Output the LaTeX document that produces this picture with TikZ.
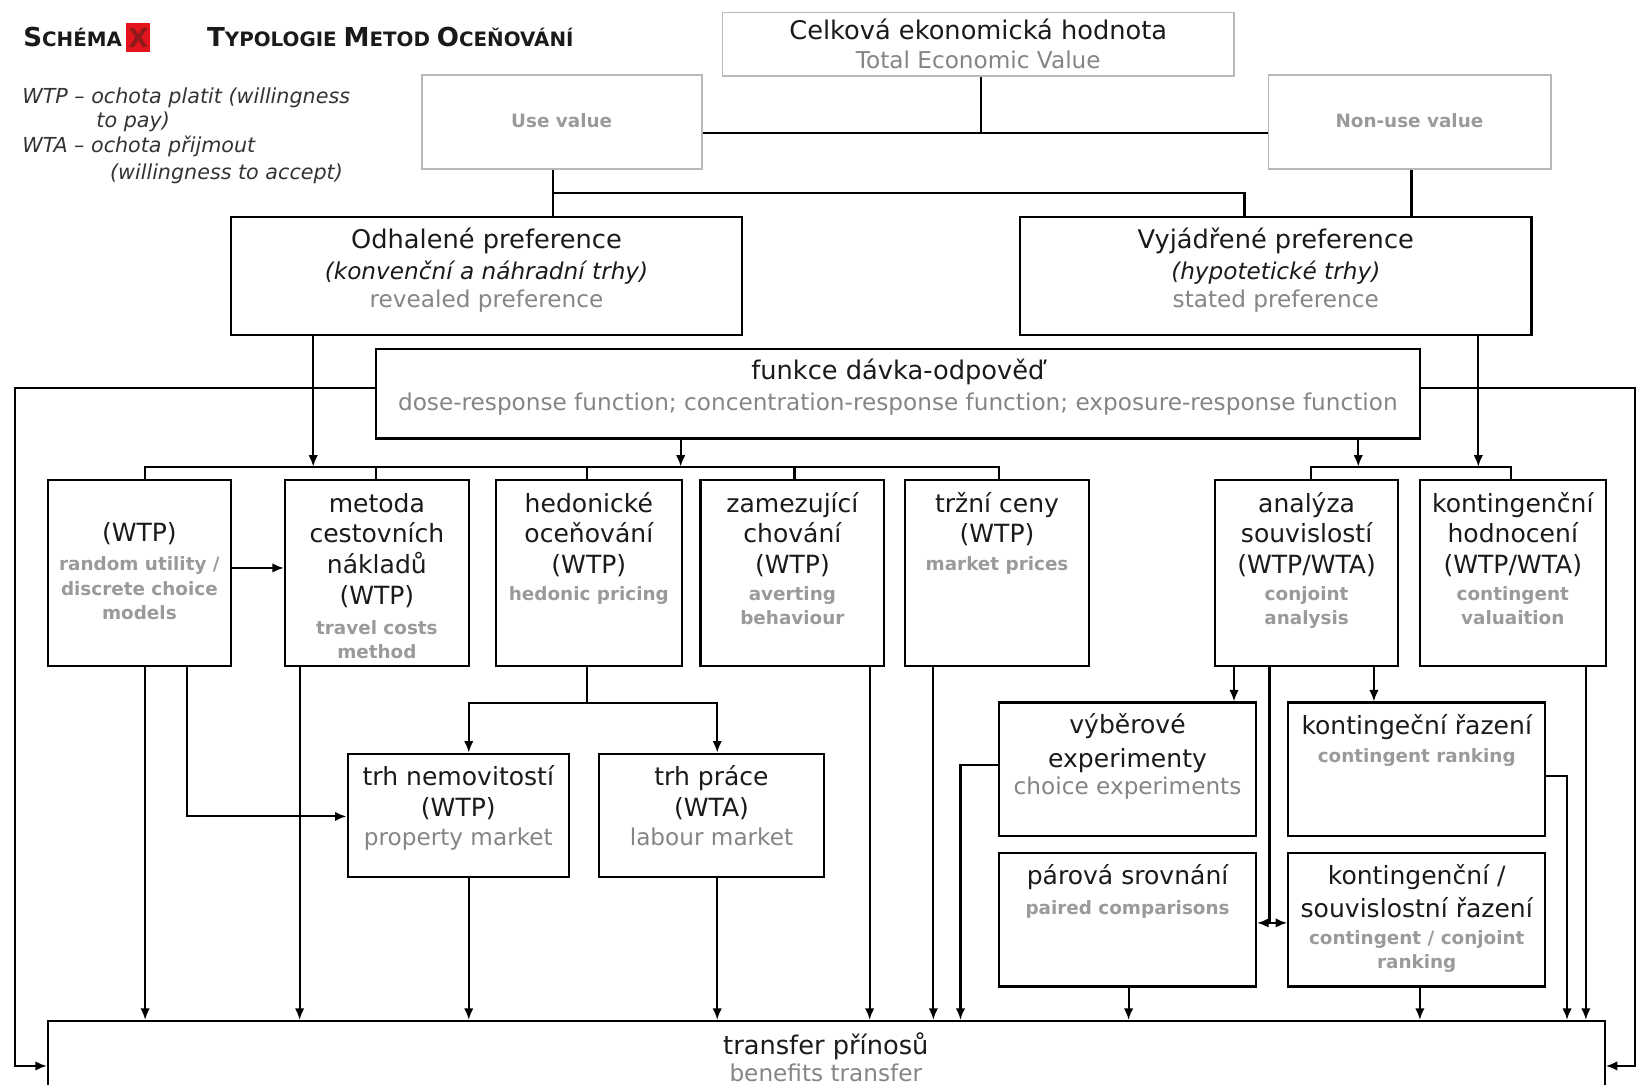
\documentclass[tikz,border=0pt]{standalone}
\usepackage{fontspec}
\setmainfont{DejaVu Sans}
\usetikzlibrary{arrows.meta,fit}
\definecolor{txtblack}{HTML}{1A1A1A}
\definecolor{gtxt}{HTML}{858585}
\definecolor{gsmall}{HTML}{9A9A9A}
\definecolor{gline}{HTML}{B8B8B8}
\definecolor{txtleg}{HTML}{333333}
\definecolor{redbx}{HTML}{E3141C}
\definecolor{xcol}{HTML}{8E1A1A}
\newcommand\BigS[1]{{\fontsize{12.5}{14}\selectfont #1}}
\newcommand\SmS[1]{{\fontsize{9.5}{14}\selectfont #1}}
\begin{document}
\begin{tikzpicture}[x=0.5pt,y=-0.5pt,
  every node/.style={inner sep=0pt},
  bx/.style={draw=black, line width=1.1pt},
  gbx/.style={draw=gline, line width=0.9pt},
  tl/.style={anchor=mid, yshift=-1.5pt},
  hb/.style={tl, font=\fontsize{12.3}{14}\selectfont, text=txtblack},
  hg/.style={tl, font=\fontsize{11.1}{13}\selectfont, text=gtxt},
  hi/.style={tl, font=\fontsize{11.1}{13}\selectfont\itshape, text=txtblack},
  rb/.style={tl, font=\fontsize{12}{14}\selectfont, text=txtblack},
  rs/.style={tl, font=\bfseries\fontsize{8.8}{11}\selectfont, text=gsmall},
  lg/.style={anchor=mid west, yshift=-1.5pt, font=\itshape\fontsize{9.9}{12}\selectfont, text=txtleg},
  conn/.style={draw=black, line width=1pt},
  arr/.style={conn, -{Latex[length=5.5pt,width=4.5pt]}},
  darr/.style={conn, {Latex[length=5.5pt,width=4.5pt]}-{Latex[length=5.5pt,width=4.5pt]}},
]
\useasboundingbox (0,0) rectangle (1568,1039);

% ---------- title and legend
\node[anchor=mid west, yshift=-1.5pt, font=\bfseries, text=txtblack] (ttl) at (22,36) {\BigS{S}\SmS{CHÉMA}};
\node[fill=redbx, fit={(121,22) (144,50)}] (rbox) {};
\node[font=\bfseries\fontsize{12.5}{14}\selectfont, text=xcol] (rboxx) at (rbox.center) {X};
\node[anchor=mid west, yshift=-1.5pt, font=\bfseries, text=txtblack] (ttl2) at (198,36)
  {\BigS{T}\SmS{YPOLOGIE }\BigS{M}\SmS{ETOD }\BigS{O}\SmS{CEŇOVÁNÍ}};
\node[lg] (lg1) at (21,91) {WTP – ochota platit (willingness};
\node[lg] (lg2) at (92,114) {to pay)};
\node[lg] (lg3) at (21,138) {WTA – ochota přijmout};
\node[lg] (lg4) at (105,163) {(willingness to accept)};

% ---------- boxes
\node[gbx, fit={(692,12) (1182,73)}] (tev) {};
\node[gbx, fit={(404,72) (672,162)}] (use) {};
\node[gbx, fit={(1215,72) (1486,162)}] (nonuse) {};
\node[bx, fit={(221,208) (711,321)}] (odh) {};
\node[bx, fit={(977,208) (1467,321)}] (vyj) {};
\node[bx, fit={(360,334) (1360,420)}] (fun) {};
\node[bx, fit={(46,460) (221,638)}] (b1) {};
\node[bx, fit={(273,460) (449,638)}] (b2) {};
\node[bx, fit={(475,460) (653,638)}] (b3) {};
\node[bx, fit={(671,460) (847,638)}] (b4) {};
\node[bx, fit={(867,460) (1043,638)}] (b5) {};
\node[bx, fit={(1164,460) (1339,638)}] (b6) {};
\node[bx, fit={(1360,460) (1538,638)}] (b7) {};
\node[bx, fit={(333,722) (545,840)}] (nem) {};
\node[bx, fit={(574,722) (789,840)}] (pra) {};
\node[bx, fit={(957,673) (1203,801)}] (vyb) {};
\node[bx, fit={(1234,673) (1480,801)}] (kr) {};
\node[bx, fit={(957,817) (1203,945)}] (par) {};
\node[bx, fit={(1234,817) (1480,945)}] (ksr) {};
\node[bx, fit={(46,978) (1537,1064)}] (tr) {};

% ---------- texts
\node[hb] (tev1) at (937,29) {Celková ekonomická hodnota};
\node[hg] (tev2) at (937,57) {Total Economic Value};
\node[rs] (use1) at (538,114) {Use value};
\node[rs] (nonuse1) at (1350,114) {Non-use value};

\node[hb] (odh1) at (466,230) {Odhalené preference};
\node[hi] (odh2) at (466,259) {(konvenční a náhradní trhy)};
\node[hg] (odh3) at (466,286) {revealed preference};
\node[hb] (vyj1) at (1222,230) {Vyjádřené preference};
\node[hi] (vyj2) at (1222,259) {(hypotetické trhy)};
\node[hg] (vyj3) at (1222,286) {stated preference};

\node[hb] (fun1) at (860,355) {funkce dávka-odpověď};
\node[hg] (fun2) at (860,385) {dose-response function; concentration-response function; exposure-response function};

\node[rb] (b1a) at (133.5,510) {(WTP)};
\node[rs] (b1b) at (133.5,538) {random utility /};
\node[rs] (b1c) at (133.5,562) {discrete choice};
\node[rs] (b1d) at (133.5,585) {models};

\node[rb] (b2a) at (361,482) {metoda};
\node[rb] (b2b) at (361,511) {cestovních};
\node[rb] (b2c) at (361,541) {nákladů};
\node[rb] (b2d) at (361,571) {(WTP)};
\node[rs] (b2e) at (361,599) {travel costs};
\node[rs] (b2f) at (361,622) {method};

\node[rb] (b3a) at (564,482) {hedonické};
\node[rb] (b3b) at (564,511) {oceňování};
\node[rb] (b3c) at (564,541) {(WTP)};
\node[rs] (b3d) at (564,567) {hedonic pricing};

\node[rb] (b4a) at (759,482) {zamezující};
\node[rb] (b4b) at (759,511) {chování};
\node[rb] (b4c) at (759,541) {(WTP)};
\node[rs] (b4d) at (759,567) {averting};
\node[rs] (b4e) at (759,590) {behaviour};

\node[rb] (b5a) at (955,482) {tržní ceny};
\node[rb] (b5b) at (955,511) {(WTP)};
\node[rs] (b5c) at (955,538) {market prices};

\node[rb] (b6a) at (1251.5,482) {analýza};
\node[rb] (b6b) at (1251.5,511) {souvislostí};
\node[rb] (b6c) at (1251.5,541) {(WTP/WTA)};
\node[rs] (b6d) at (1251.5,567) {conjoint};
\node[rs] (b6e) at (1251.5,590) {analysis};

\node[rb] (b7a) at (1449,482) {kontingenční};
\node[rb] (b7b) at (1449,511) {hodnocení};
\node[rb] (b7c) at (1449,541) {(WTP/WTA)};
\node[rs] (b7d) at (1449,567) {contingent};
\node[rs] (b7e) at (1449,590) {valuaition};

\node[rb] (nem1) at (439,744) {trh nemovitostí};
\node[rb] (nem2) at (439,774) {(WTP)};
\node[hg] (nem3) at (439,801) {property market};
\node[rb] (pra1) at (681.5,744) {trh práce};
\node[rb] (pra2) at (681.5,774) {(WTA)};
\node[hg] (pra3) at (681.5,801) {labour market};

\node[rb] (vyb1) at (1080,694) {výběrové};
\node[rb] (vyb2) at (1080,727) {experimenty};
\node[hg] (vyb3) at (1080,753) {choice experiments};
\node[rb] (kr1) at (1357,695) {kontingeční řazení};
\node[rs] (kr2) at (1357,722) {contingent ranking};
\node[rb] (par1) at (1080,839) {párová srovnání};
\node[rs] (par2) at (1080,867) {paired comparisons};
\node[rb] (ksr1) at (1357,839) {kontingenční /};
\node[rb] (ksr2) at (1357,870) {souvislostní řazení};
\node[rs] (ksr3) at (1357,896) {contingent / conjoint};
\node[rs] (ksr4) at (1357,919) {ranking};

\node[hb] (tr1) at (791,1002) {transfer přínosů};
\node[hg] (tr2) at (791,1027) {benefits transfer};

% ---------- connectors: top tree
\coordinate (jT) at (940,127);
\draw[conn] (tev.south -| jT) -- (jT);
\draw[conn] (use.east |- jT) -- (nonuse.west |- jT);
\coordinate (jU) at (530,185);
\coordinate (jV) at (1192,185);
\coordinate (jN) at (1352,185);
\draw[conn] (use.south -| jU) -- (odh.north -| jU);
\draw[conn] (jU) -- (jV) -- (vyj.north -| jV);
\draw[conn] (nonuse.south -| jN) -- (vyj.north -| jN);

% ---------- buses to row boxes
\coordinate (busL1) at (139,447);
\coordinate (busL2) at (957,447);
\coordinate (d2) at (360,447);
\coordinate (d3) at (562,447);
\coordinate (d4) at (761,447);
\draw[conn] (b1.north -| busL1) -- (busL1) -- (busL2) -- (b5.north -| busL2);
\draw[conn] (d2) -- (b2.north -| d2);
\draw[conn] (d3) -- (b3.north -| d3);
\draw[conn] (d4) -- (b4.north -| d4);
\coordinate (aO) at (300,447);
\coordinate (aF) at (652,447);
\draw[arr] (odh.south -| aO) -- (aO);
\draw[arr] (fun.south -| aF) -- (aF);
\coordinate (busR1) at (1256,447);
\coordinate (busR2) at (1447,447);
\draw[conn] (b6.north -| busR1) -- (busR1) -- (busR2) -- (b7.north -| busR2);
\coordinate (aF2) at (1301,447);
\coordinate (aV) at (1416,447);
\draw[arr] (fun.south -| aF2) -- (aF2);
\draw[arr] (vyj.south -| aV) -- (aV);

% ---------- dose-response side lines to transfer
\coordinate (fL) at (14,372);
\coordinate (fR) at (1566,372);
\draw[arr] (fun.west |- fL) -- (fL) |- (tr.west);
\draw[arr] (fun.east |- fR) -- (fR) |- (tr.east);

% ---------- row 2 connectors
\coordinate (yA) at (0,544);
\draw[arr] (b1.east |- yA) -- (b2.west |- yA);
\coordinate (x139) at (139,0);
\coordinate (x179) at (179,0);
\coordinate (yN) at (0,782);
\draw[arr] (b1.south -| x139) -- (tr.north -| x139);
\draw[arr] (b1.south -| x179) |- (nem.west |- yN);
\coordinate (x287) at (287,0);
\draw[arr] (b2.south -| x287) -- (tr.north -| x287);
\coordinate (jH) at (562,673);
\coordinate (jH1) at (449,673);
\coordinate (jH2) at (687,673);
\draw[conn] (b3.south -| jH) -- (jH);
\draw[arr] (jH) -| (nem.north -| jH1);
\draw[arr] (jH) -| (pra.north -| jH2);
\draw[arr] (nem.south -| jH1) -- (tr.north -| jH1);
\draw[arr] (pra.south -| jH2) -- (tr.north -| jH2);
\coordinate (x833) at (833,0);
\coordinate (x894) at (894,0);
\draw[arr] (b4.south -| x833) -- (tr.north -| x833);
\draw[arr] (b5.south -| x894) -- (tr.north -| x894);

% ---------- stated preference methods
\coordinate (yV) at (0,733);
\coordinate (x920) at (920,0);
\draw[arr] (vyb.west |- yV) -| (tr.north -| x920);
\coordinate (x1182) at (1182,0);
\draw[arr] (b6.south -| x1182) -- (vyb.north -| x1182);
\coordinate (jD) at (1216,884);
\draw[conn] (b6.south -| jD) -- (jD);
\draw[darr] (par.east |- jD) -- (ksr.west |- jD);
\coordinate (x1316) at (1316,0);
\draw[arr] (b6.south -| x1316) -- (kr.north -| x1316);
\coordinate (yK) at (0,743);
\coordinate (x1501) at (1501,0);
\draw[arr] (kr.east |- yK) -| (tr.north -| x1501);
\coordinate (x1081) at (1081,0);
\coordinate (x1360) at (1360,0);
\draw[arr] (par.south -| x1081) -- (tr.north -| x1081);
\draw[arr] (ksr.south -| x1360) -- (tr.north -| x1360);
\coordinate (x1519) at (1519,0);
\draw[arr] (b7.south -| x1519) -- (tr.north -| x1519);
\end{tikzpicture}
\end{document}
